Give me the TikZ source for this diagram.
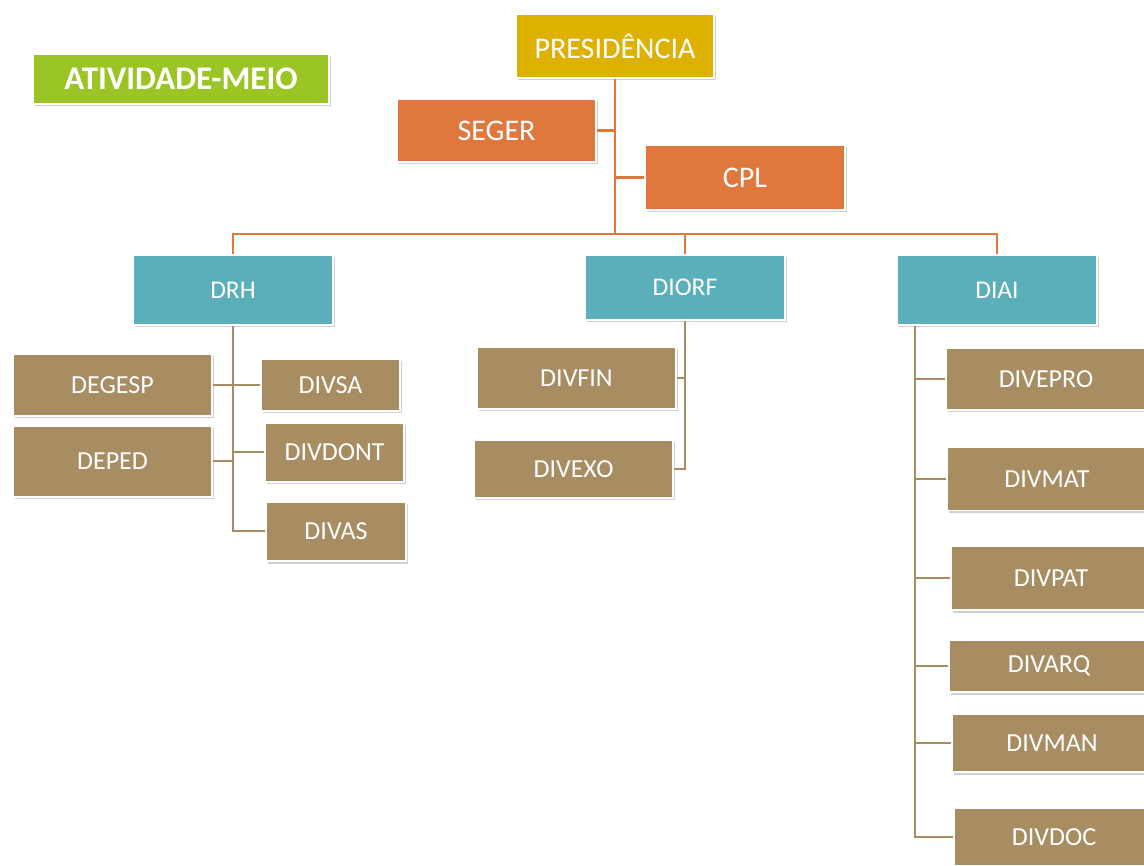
\documentclass[tikz,border=0pt]{standalone}
\usepackage{fontspec}
\setmainfont{Carlito}
\usepackage{tikz}
\usetikzlibrary{shadows}

\definecolor{verde}{RGB}{155,197,36}
\definecolor{ouro}{RGB}{222,176,0}
\definecolor{laranja}{RGB}{224,120,62}
\definecolor{turquesa}{RGB}{91,175,186}
\definecolor{marrom}{RGB}{168,140,98}

\begin{document}
\begin{tikzpicture}[x=1pt, y=-1pt,
    caixa/.style={draw=white, line width=1.5pt, text=white, inner sep=0pt,
      drop shadow={shadow xshift=1.5pt, shadow yshift=-2.5pt, opacity=.3, fill=black!60}},
    topo/.style={caixa, font=\fontsize{30}{32}\selectfont},
    diretoria/.style={caixa, fill=turquesa, minimum width=200pt, font=\fontsize{25.5}{27}\selectfont},
    divisao/.style={caixa, fill=marrom, font=\fontsize{26}{28}\selectfont},
    linhalaranja/.style={draw=laranja, line width=2.5pt},
    linhamarrom/.style={draw=marrom, line width=2pt}]
  \fill[white] (0,0) rectangle (1144,866);
  \useasboundingbox (0,0) rectangle (1144,866);

  % Caixas
  \node[topo, fill=verde, minimum width=296pt, minimum height=50pt, font=\fontsize{33}{35}\selectfont\bfseries] (atv) at (181,79) {ATIVIDADE-MEIO};
  \node[topo, fill=ouro, minimum width=198pt, minimum height=64pt] (pres) at (615,46) {PRESIDÊNCIA};
  \node[topo, fill=laranja, minimum width=199pt, minimum height=63pt] (seger) at (496.5,130.5) {SEGER};
  \node[topo, fill=laranja, minimum width=200pt, minimum height=65pt] (cpl) at (745,177.5) {CPL};

  \node[diretoria, minimum height=70pt] (drh) at (233,290) {DRH};
  \node[diretoria, minimum height=65pt] (diorf) at (685,287.5) {DIORF};
  \node[diretoria, minimum height=70pt] (diai) at (997,290) {DIAI};

  \node[divisao, minimum width=199pt, minimum height=62pt] (degesp) at (112.5,385) {DEGESP};
  \node[divisao, minimum width=199pt, minimum height=71pt] (deped) at (112.5,461.5) {DEPED};
  \node[divisao, minimum width=139pt, minimum height=52pt] (divsa) at (330.5,385) {DIVSA};
  \node[divisao, minimum width=139pt, minimum height=59pt] (divdont) at (334.5,452.5) {DIVDONT};
  \node[divisao, minimum width=140pt, minimum height=59pt] (divas) at (336,531.5) {DIVAS};

  \node[divisao, minimum width=199pt, minimum height=62pt] (divfin) at (576.5,378) {DIVFIN};
  \node[divisao, minimum width=199pt, minimum height=58pt] (divexo) at (573.5,469) {DIVEXO};

  \node[divisao, minimum width=200pt, minimum height=62pt] (divepro) at (1046,379) {DIVEPRO};
  \node[divisao, minimum width=200pt, minimum height=63pt] (divmat) at (1047,479) {DIVMAT};
  \node[divisao, minimum width=200pt, minimum height=64pt] (divpat) at (1051,578) {DIVPAT};
  \node[divisao, minimum width=200pt, minimum height=52pt] (divarq) at (1049,666) {DIVARQ};
  \node[divisao, minimum width=200pt, minimum height=58pt] (divman) at (1052,743) {DIVMAN};
  \node[divisao, minimum width=200pt, minimum height=58pt] (divdoc) at (1054,837) {DIVDOC};

  % Ligações
  \coordinate (barra) at (615,234);
  \coordinate (tronco) at ([xshift=19pt]diai.south west);
  \draw[linhalaranja] (pres.south) -- (barra);
  \draw[linhalaranja] (seger.east) -- (seger.east -| pres.south);
  \draw[linhalaranja] (cpl.west) -- (cpl.west -| pres.south);
  \draw[linhalaranja] (drh.north) |- (barra) -| (diai.north);
  \draw[linhalaranja] (barra -| diorf.north) -- (diorf.north);

  \draw[linhamarrom] (drh.south) |- (divas.west);
  \draw[linhamarrom] (degesp.east) -- (divsa.west);
  \draw[linhamarrom] (deped.east) -- (deped.east -| drh.south);
  \draw[linhamarrom] (divdont.west) -- (divdont.west -| drh.south);

  \draw[linhamarrom] (diorf.south) |- (divexo.east);
  \draw[linhamarrom] (divfin.east) -- (divfin.east -| diorf.south);

  \draw[linhamarrom] (tronco) |- (divdoc.west);
  \foreach \d in {divepro, divmat, divpat, divarq, divman}
    \draw[linhamarrom] (\d.west) -- (\d.west -| tronco);
\end{tikzpicture}
\end{document}
